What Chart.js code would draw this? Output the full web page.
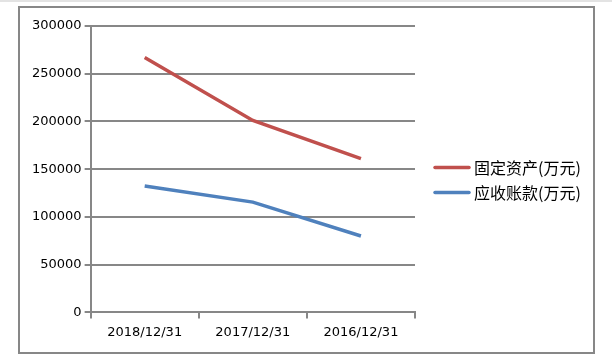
<!DOCTYPE html>
<html>
<head>
<meta charset="utf-8">
<script src="https://cdn.jsdelivr.net/npm/chart.js@4/dist/chart.umd.min.js"></script>
<style>
    html, body { margin: 0; padding: 0; background: #fff; }
    body { width: 612px; height: 361px; position: relative; overflow: hidden; }
    #topStrip { position: absolute; left: 0; top: 0; width: 612px; height: 2px; background: #e3e3e3; }
    #frame {
        position: absolute; left: 18px; top: 6px;
        width: 573px; height: 344px;
        border: 2px solid #878787;
    }
</style>
</head>
<body>
<div id="topStrip"></div>
<div id="frame"><canvas id="chart" width="573" height="344"></canvas></div>
<script>
// Chart data
const categories = ['2018/12/31', '2017/12/31', '2016/12/31'];
const fixedAssets = [267000, 201000, 161000];
const receivables = [132500, 115500, 80000];
const seriesNames = ['固定资产(万元)', '应收账款(万元)'];
const seriesColors = ['#C0504D', '#4F81BD'];

const gridColor = '#878787';

// Legend drawn on the right, centred vertically
const rightLegend = {
    id: 'rightLegend',
    afterDraw(chart) {
        const ctx = chart.ctx;
        const x = chart.chartArea.right + 20;
        const mid = chart.height / 2;
        const items = chart.data.datasets;
        const step = 25;
        const startY = mid - (items.length - 1) * step / 2;
        ctx.save();
        ctx.font = '16px "Noto Sans CJK SC"';
        ctx.textBaseline = 'middle';
        ctx.fillStyle = '#000';
        items.forEach((ds, i) => {
            const y = startY + i * step;
            ctx.strokeStyle = ds.borderColor;
            ctx.lineWidth = 3.5;
            ctx.lineCap = 'round';
            ctx.beginPath();
            ctx.moveTo(x, y);
            ctx.lineTo(x + 34, y);
            ctx.stroke();
            ctx.fillText(ds.label, x + 39, y);
        });
        ctx.restore();
    }
};

const ctx = document.getElementById('chart').getContext('2d');
new Chart(ctx, {
    type: 'line',
    data: {
        labels: categories,
        datasets: [{
            label: seriesNames[0],
            data: fixedAssets,
            borderColor: seriesColors[0],
            backgroundColor: seriesColors[0],
            borderWidth: 3.5,
            pointRadius: 0,
            tension: 0
        }, {
            label: seriesNames[1],
            data: receivables,
            borderColor: seriesColors[1],
            backgroundColor: seriesColors[1],
            borderWidth: 3.5,
            pointRadius: 0,
            tension: 0
        }]
    },
    options: {
        responsive: false,
        animation: false,
        layout: {
            padding: { left: 9, top: 18, right: 178, bottom: 6 }
        },
        plugins: {
            legend: { display: false },
            tooltip: { enabled: false }
        },
        scales: {
            x: {
                offset: true,
                grid: {
                    offset: true,
                    drawOnChartArea: false,
                    drawTicks: true,
                    tickLength: 6,
                    color: gridColor,
                    lineWidth: 2
                },
                border: { display: true, color: gridColor, width: 2 },
                ticks: {
                    color: '#000',
                    padding: 6,
                    maxRotation: 0,
                    font: { family: '"DejaVu Sans"', size: 13 }
                }
            },
            y: {
                min: 0,
                max: 300000,
                grid: {
                    color: gridColor,
                    lineWidth: 2,
                    tickLength: 6
                },
                border: { display: true, color: gridColor, width: 2 },
                ticks: {
                    stepSize: 50000,
                    color: '#000',
                    padding: 3,
                    font: { family: '"DejaVu Sans"', size: 13 },
                    callback: value => String(value)
                }
            }
        }
    },
    plugins: [rightLegend]
});
</script>
</body>
</html>
